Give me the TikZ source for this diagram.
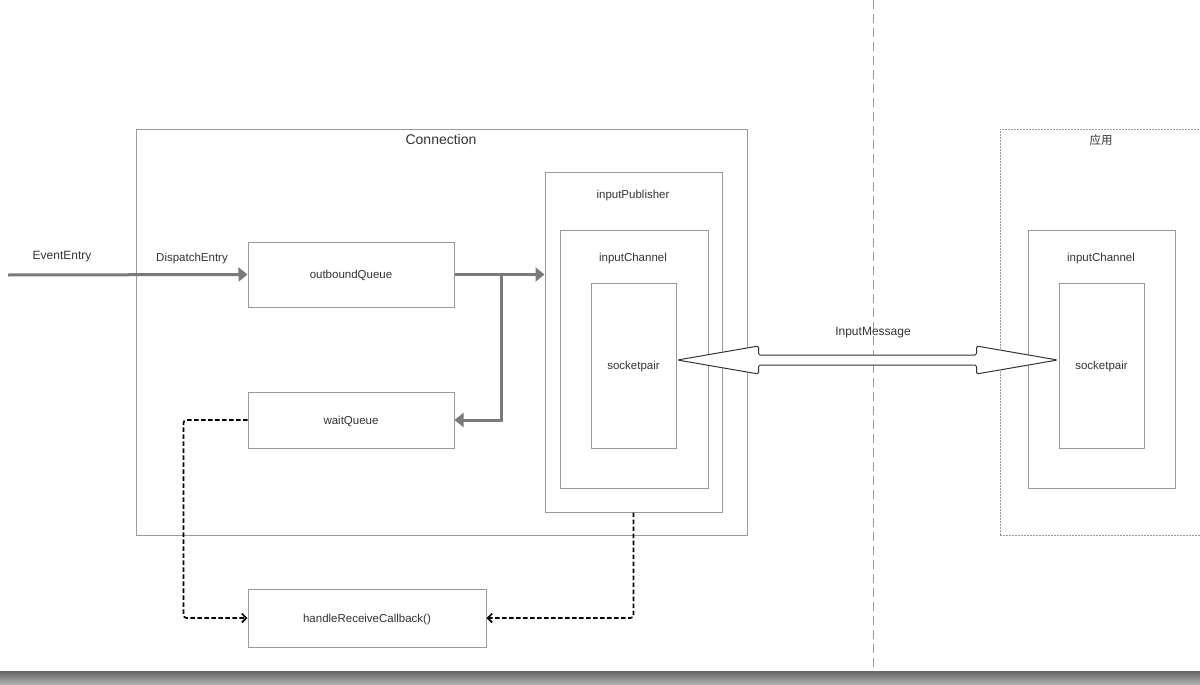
\documentclass[tikz,border=0pt]{standalone}
\usepackage{fontspec}
\setmainfont{Liberation Sans}
\newfontfamily\cjk{Noto Sans CJK SC}
\usetikzlibrary{arrows.meta,calc}

\definecolor{linegray}{HTML}{9A9A9A}
\definecolor{arrowgray}{HTML}{7A7A7A}
\definecolor{textgray}{HTML}{333333}

\tikzset{
  box/.style={draw=linegray, line width=1pt, inner sep=0pt, text=textgray,
    text depth=0pt, font=\fontsize{11.5}{13}\selectfont},
  caption/.style={text=textgray, inner sep=0pt, font=\fontsize{11.5}{13}\selectfont},
  flow/.style={draw=arrowgray, line width=3pt,
    -{Triangle[width=14pt,length=9pt]}},
  callback/.style={draw=black, line width=1.7pt, dash pattern=on 4.5pt off 2.5pt,
    rounded corners=3pt, -{Straight Barb[width=9pt,length=4.5pt]}},
}

\begin{document}
\begin{tikzpicture}[x=1pt, y=-1pt]
    \useasboundingbox (0,0) rectangle (1200,685);
    \fill[white] (0,0) rectangle (1200,685);

    % split between the two processes
    \draw[linegray, line width=1pt, dash pattern=on 9pt off 5pt] (873,0) -- (873,670);

    % left side
    \node[box, minimum width=611pt, minimum height=406pt] (conn) at (441.5,332) {};
    \node[caption, font=\fontsize{14}{16}\selectfont] at (441,139) {Connection};
    \node[box, minimum width=206pt, minimum height=65pt] (outQ) at (351,274.5) {outboundQueue};
    \node[box, minimum width=206pt, minimum height=56pt] (waitQ) at (351,420) {waitQueue};
    \node[box, minimum width=238pt, minimum height=58pt] (handle) at (367,618) {handleReceiveCallback()};
    \node[box, minimum width=177pt, minimum height=340pt] (pub) at (633.5,342) {};
    \node[caption] at (633,196) {inputPublisher};
    \node[box, minimum width=148pt, minimum height=258pt] (chan) at (634,359) {};
    \node[caption] at (633,259) {inputChannel};
    \node[box, minimum width=85pt, minimum height=165pt] (sock) at (633.5,365.5) {socketpair};

    % right side
    \node[box, dash pattern=on 2pt off 1pt, minimum width=240pt, minimum height=406pt] (app) at (1120,332) {};
    \node[caption, font=\cjk\fontsize{11.5}{13}\selectfont] at (1101,140) {应用};
    \node[box, minimum width=147pt, minimum height=258pt] (chanApp) at (1101.5,359) {};
    \node[caption] at (1101,259) {inputChannel};
    \node[box, minimum width=85pt, minimum height=165pt] (sockApp) at (1101.5,365.5) {socketpair};

    % flows
    \coordinate (entry) at (8,275);
    \coordinate (split) at (501,275);
    \draw[flow] (entry) -- (outQ.west);
    \node[caption, font=\fontsize{12}{14}\selectfont] at (62,257) {EventEntry};
    \node[caption] at (192,259) {DispatchEntry};
    \draw[flow] (outQ.east) -- (outQ.east -| pub.west);
    \draw[flow] (split) |- (waitQ.east);
    \draw[callback] (waitQ.west) -- ++(-64,0) |- (handle.west);
    \draw[callback] (pub.south) |- (handle.east);

    % message between the socket pair
    \coordinate (tipL) at ($(sock.east)+(1,-5.5)$);
    \coordinate (tipR) at ($(sockApp.west)+(-1,-5.5)$);
    \draw[draw=black!80, fill=white, line width=1pt, rounded corners=1.5pt]
      (tipL) -- ++(81,-14) -- ++(0,9) -- ($(tipR)+(-81,-5)$) -- ++(0,-9) -- (tipR)
      -- ++(-81,14) -- ++(0,-9) -- ($(tipL)+(81,5)$) -- ++(0,9) -- cycle;
    \node[caption, font=\fontsize{12}{14}\selectfont] at (873,333) {InputMessage};

    % window shadow
    \shade[top color=black!60, bottom color=black!30] (0,671) rectangle (1200,685);
\end{tikzpicture}
\end{document}
